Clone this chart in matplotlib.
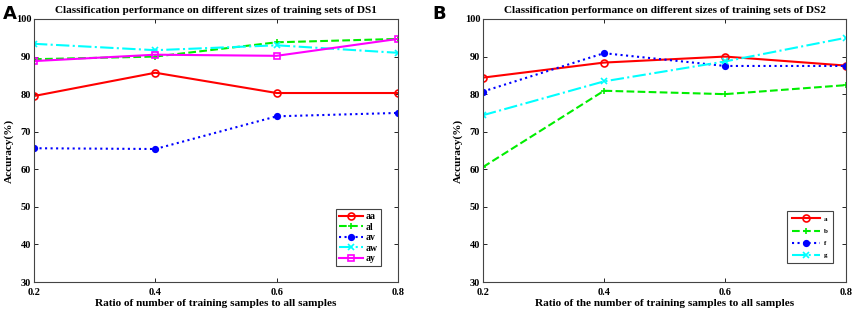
import matplotlib.pyplot as plt

plt.rcParams['font.family'] = ['Liberation Serif', 'DejaVu Serif']
plt.rcParams['font.weight'] = 'bold'

ratio = [0.2, 0.4, 0.6, 0.8]

# panel A (DS1)
aa = [79.5, 85.7, 80.3, 80.3]
al = [89.3, 90.0, 93.8, 94.7]
av = [65.6, 65.4, 74.1, 75.0]
aw = [93.4, 91.7, 93.0, 91.0]
ay = [88.8, 90.5, 90.2, 94.7]

# panel B (DS2)
a = [84.4, 88.4, 90.0, 87.6]
b = [60.6, 80.9, 80.0, 82.4]
f = [80.7, 90.9, 87.5, 87.5]
g = [74.4, 83.4, 88.7, 95.0]

styles = [
    dict(color='red', ls='-', marker='o', mfc='none'),
    dict(color='#00ee00', ls='--', marker='+'),
    dict(color='blue', ls=':', marker='o', ms=4),
    dict(color='cyan', ls='-.', marker='x'),
    dict(color='magenta', ls='-', marker='s', mfc='none'),
]

fig = plt.figure(figsize=(8.56, 3.14), dpi=100)
axA = fig.add_axes([34/856, 1-282/314, 364/856, 263/314])
axB = fig.add_axes([483/856, 1-282/314, 363/856, 263/314])


def setup(ax, title, xlabel):
    ax.set_xlim(0.2, 0.8)
    ax.set_ylim(30, 100)
    ax.set_xticks(ratio)
    ax.set_xticklabels(['0.2', '0.4', '0.6', '0.8'])
    ax.set_yticks(range(30, 101, 10))
    ax.tick_params(direction='in', top=True, right=True, labelsize=7.5, length=3, width=0.6)
    ax.tick_params(axis='y', pad=2)
    ax.tick_params(axis='x', pad=4.5)
    for lab in ax.get_xticklabels() + ax.get_yticklabels():
        lab.set_fontweight('bold')
    for s in ax.spines.values():
        s.set_color('#444444')
        s.set_linewidth(0.8)
    ax.set_title(title, fontsize=8.1, fontweight='bold', pad=4)
    ax.set_xlabel(xlabel, fontsize=8.1, fontweight='bold', labelpad=1)
    ax.set_ylabel('Accuracy(%)', fontsize=8.1, fontweight='bold', labelpad=1)


for vals, name, st in zip([aa, al, av, aw, ay], ['aa', 'al', 'av', 'aw', 'ay'], styles):
    axA.plot(ratio, vals, lw=1.5, ms=st.pop('ms', 5), mew=1.2, label=name, **st)
setup(axA, 'Classification performance on different sizes of training sets of DS1',
      'Ratio of number of training samples to all samples')
legA = axA.legend(loc='lower right', bbox_to_anchor=(0.953, 0.061), borderaxespad=0,
                  prop={'weight': 'bold', 'size': 7},
                  handlelength=2.5, handletextpad=0.3, labelspacing=0.15, borderpad=0.3,
                  fancybox=False, edgecolor='#444444', framealpha=1)
legA.get_frame().set_linewidth(0.8)

styles = [
    dict(color='red', ls='-', marker='o', mfc='none'),
    dict(color='#00ee00', ls='--', marker='+'),
    dict(color='blue', ls=':', marker='o', ms=4),
    dict(color='cyan', ls='-.', marker='x'),
]
for vals, name, st in zip([a, b, f, g], ['a', 'b', 'f', 'g'], styles):
    axB.plot(ratio, vals, lw=1.5, ms=st.pop('ms', 5), mew=1.2, label=name, **st)
setup(axB, 'Classification performance on different sizes of training sets of DS2',
      'Ratio of the number of training samples to all samples')
legB = axB.legend(loc='lower right', bbox_to_anchor=(0.964, 0.072), borderaxespad=0,
                  prop={'weight': 'bold', 'size': 5},
                  handlelength=4, handletextpad=0.6, labelspacing=0.9, borderpad=0.7,
                  fancybox=False, edgecolor='#444444', framealpha=1)
legB.get_frame().set_linewidth(0.8)

fig.text(3/856, 1-14/314, 'A', fontsize=13, fontweight='bold', family='DejaVu Sans', va='center')
fig.text(432/856, 1-14/314, 'B', fontsize=13, fontweight='bold', family='DejaVu Sans', va='center')

fig.savefig('out.png', dpi=100)
